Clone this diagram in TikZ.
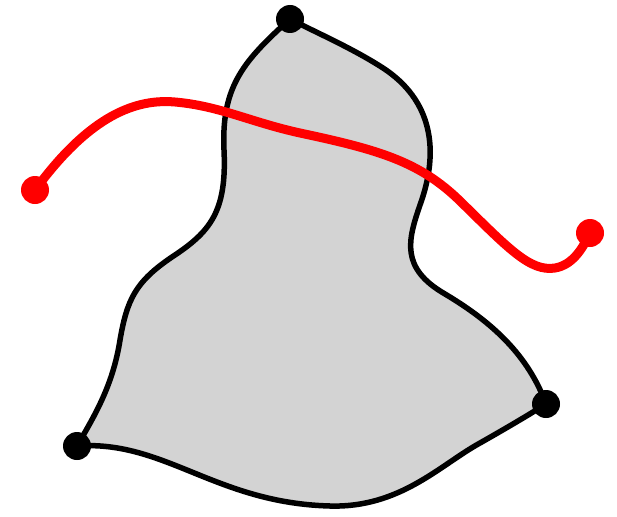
\documentclass[tikz,border=0pt]{standalone}
\definecolor{shapegray}{RGB}{211,211,211}
\definecolor{curvered}{RGB}{255,0,0}
\tikzset{
  outline/.style={draw=black, line width=5.5pt, fill=shapegray, line join=round},
  redcurve/.style={draw=curvered, line width=9pt, line cap=round},
  blackdot/.style={circle, fill=black, minimum size=28pt, inner sep=0pt},
  reddot/.style={circle, fill=curvered, minimum size=28pt, inner sep=0pt}
}
\begin{document}
\begin{tikzpicture}[x=1pt,y=-1pt]
\useasboundingbox (0,0) rectangle (617,516);
\coordinate (A) at (290,19);
\coordinate (B) at (77,446);
\coordinate (C) at (546,404);
\coordinate (R1) at (35,190);
\coordinate (R2) at (590,233);
\path[outline] (A)
  .. controls (245,60) and (221,85) .. (224,150)
  .. controls (227,212) and (210,232) .. (172,257)
  .. controls (135,282) and (127,300) .. (120,340)
  .. controls (113,385) and (95,415) .. (B)
  .. controls (165,440) and (215,503) .. (330,506)
  .. controls (400,508) and (440,465) .. (480,443)
  .. controls (510,426) and (530,414) .. (C)
  .. controls (528,355) and (492,322) .. (445,294)
  .. controls (400,268) and (408,240) .. (420,205)
  .. controls (440,150) and (432,100) .. (383,68)
  .. controls (352,48) and (315,32) .. (A)
  -- cycle;
\draw[redcurve] (R1)
  .. controls (85,122) and (130,98) .. (175,102)
  .. controls (220,106) and (250,122) .. (300,133)
  .. controls (380,150) and (420,162) .. (460,201)
  .. controls (508,248) and (530,272) .. (555,268)
  .. controls (572,265) and (582,250) .. (R2);
\node[blackdot] (nA) at (A) {};
\node[blackdot] (nB) at (B) {};
\node[blackdot] (nC) at (C) {};
\node[reddot] (nR1) at (R1) {};
\node[reddot] (nR2) at (R2) {};
\end{tikzpicture}
\end{document}
